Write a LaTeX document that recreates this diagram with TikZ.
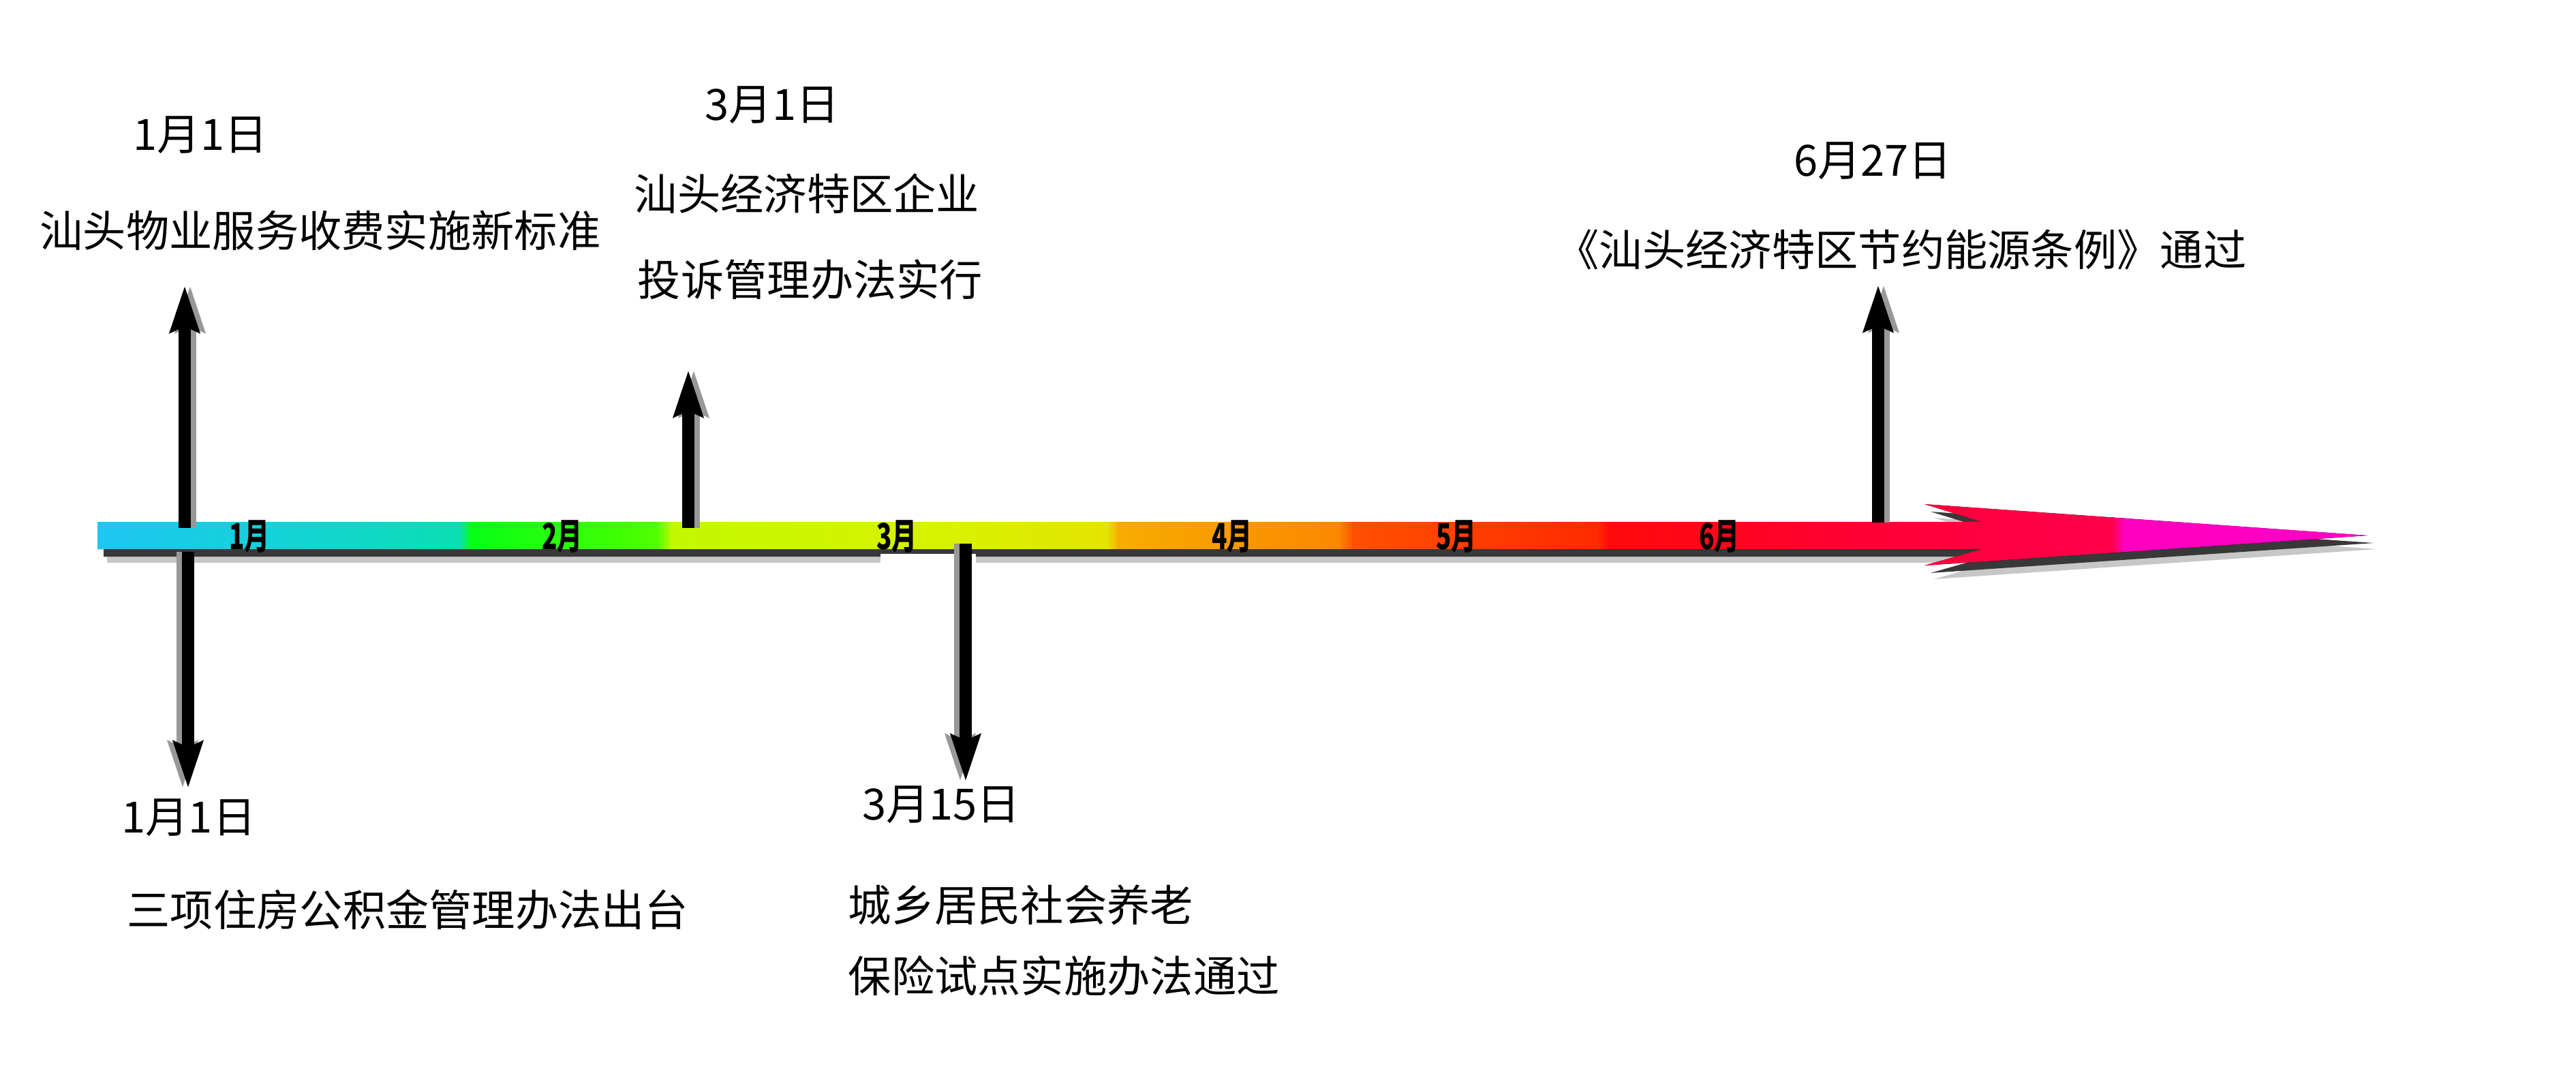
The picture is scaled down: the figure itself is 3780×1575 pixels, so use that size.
\documentclass[tikz,border=0pt]{standalone}
\usepackage{fontspec}
\setmainfont{Noto Sans CJK SC}
\usepackage{tikz}
\usetikzlibrary{arrows.meta}
\definecolor{tc1}{RGB}{30,198,242}
\definecolor{tc2}{RGB}{20,210,216}
\definecolor{tc3}{RGB}{10,222,178}
\definecolor{tc4}{RGB}{6,255,22}
\definecolor{tc5}{RGB}{80,255,0}
\definecolor{tc6}{RGB}{196,248,0}
\definecolor{tc7}{RGB}{216,242,0}
\definecolor{tc8}{RGB}{228,228,0}
\definecolor{tc9}{RGB}{248,172,0}
\definecolor{tc10}{RGB}{250,136,0}
\definecolor{tc11}{RGB}{255,80,0}
\definecolor{tc12}{RGB}{255,42,0}
\definecolor{tc13}{RGB}{255,10,10}
\definecolor{tc14}{RGB}{255,0,52}
\definecolor{tc15}{RGB}{255,0,76}
\definecolor{tc16}{RGB}{255,0,190}
\definecolor{tc17}{RGB}{255,0,200}
\definecolor{evgray}{RGB}{152,152,152}
\newcommand{\shaftwidth}{0.18cm}
\newcommand{\labelsize}{\fontsize{18}{22}\selectfont}
\tikzset{
    timebar/.style={insert path={(143,766) -- (2908,766) -- (2824,740) -- (3474,786)
        -- (2824,830) -- (2908,806) -- (143,806) -- cycle}},
    event/.style={line width=\shaftwidth, -{Stealth[length=0.68cm, width=0.42cm, inset=0.08cm]}},
    eventshadow/.style={event, draw=evgray},
    evlabel/.style={font=\labelsize, inner sep=0pt},
    month/.style={font=\fontsize{15}{17}\selectfont\bfseries, xscale=0.7, inner sep=0pt}
}

\begin{document}
\begin{tikzpicture}[x=0.01cm, y=-0.01cm]
    \useasboundingbox (0,0) rectangle (3780,1575);

    % shadow of the time bar
    \fill[black!22, shift={(14,20)}, timebar];
    \fill[black!78, shift={(9,11)}, timebar];
    \fill[white] (1292,813) rectangle (1432,840);

    % time bar
    \begin{scope}
        \clip[timebar];
        \foreach \xa/\ca/\xb/\cb in {143/tc1/400/tc2, 400/tc2/675/tc3, 675/tc3/690/tc4,
            690/tc4/965/tc5, 965/tc5/985/tc6, 985/tc6/1400/tc7, 1400/tc7/1625/tc8,
            1625/tc8/1640/tc9, 1640/tc9/1965/tc10, 1965/tc10/1985/tc11, 1985/tc11/2345/tc12,
            2345/tc12/2360/tc13, 2360/tc13/2720/tc14, 2720/tc14/3100/tc15,
            3100/tc15/3115/tc16, 3115/tc16/3490/tc17}
            \fill[left color=\ca, right color=\cb] (\xa-1,700) rectangle (\xb+2,860);
    \end{scope}

    \foreach \x/\m in {366/1, 825/2, 1316/3, 1808/4, 2137/5, 2523/6}
        \node[month] (m\m) at (\x,788) {\m 月};

    % events
    \coordinate (a1) at (271,775);  \coordinate (h1) at (271,419);
    \coordinate (a2) at (1010,775); \coordinate (h2) at (1010,543);
    \coordinate (a3) at (276,810);  \coordinate (h3) at (276,1157);
    \coordinate (a4) at (1417,798); \coordinate (h4) at (1417,1147);
    \coordinate (a5) at (2756,767); \coordinate (h5) at (2756,418);

    \foreach \i in {1,2,5}
        \draw[eventshadow] ([shift={(8,0)}]a\i) -- ([shift={(8,0)}]h\i);
    \foreach \i in {3,4}
        \draw[eventshadow] ([shift={(-8,0)}]a\i) -- ([shift={(-8,0)}]h\i);
    \foreach \i in {1,...,5}
        \draw[event] (a\i) -- (h\i);

    % labels
    \node[evlabel] (d1) at (294,198) {1月1日};
    \node[evlabel] (e1) at (470,338) {汕头物业服务收费实施新标准};
    \node[evlabel] (d2) at (1133,154) {3月1日};
    \node[evlabel] (e2a) at (1184,284) {汕头经济特区企业};
    \node[evlabel] (e2b) at (1189,410) {投诉管理办法实行};
    \node[evlabel] (d3) at (277,1200) {1月1日};
    \node[evlabel] (e3) at (598,1335) {三项住房公积金管理办法出台};
    \node[evlabel] (d4) at (1381,1181) {3月15日};
    \node[evlabel, anchor=west] (e4a) at (1244,1328) {城乡居民社会养老};
    \node[evlabel, anchor=west] (e4b) at (1244,1432) {保险试点实施办法通过};
    \node[evlabel] (d5) at (2748,236) {6月27日};
    \node[evlabel] (e5) at (2790,366) {《汕头经济特区节约能源条例》通过};
\end{tikzpicture}
\end{document}
